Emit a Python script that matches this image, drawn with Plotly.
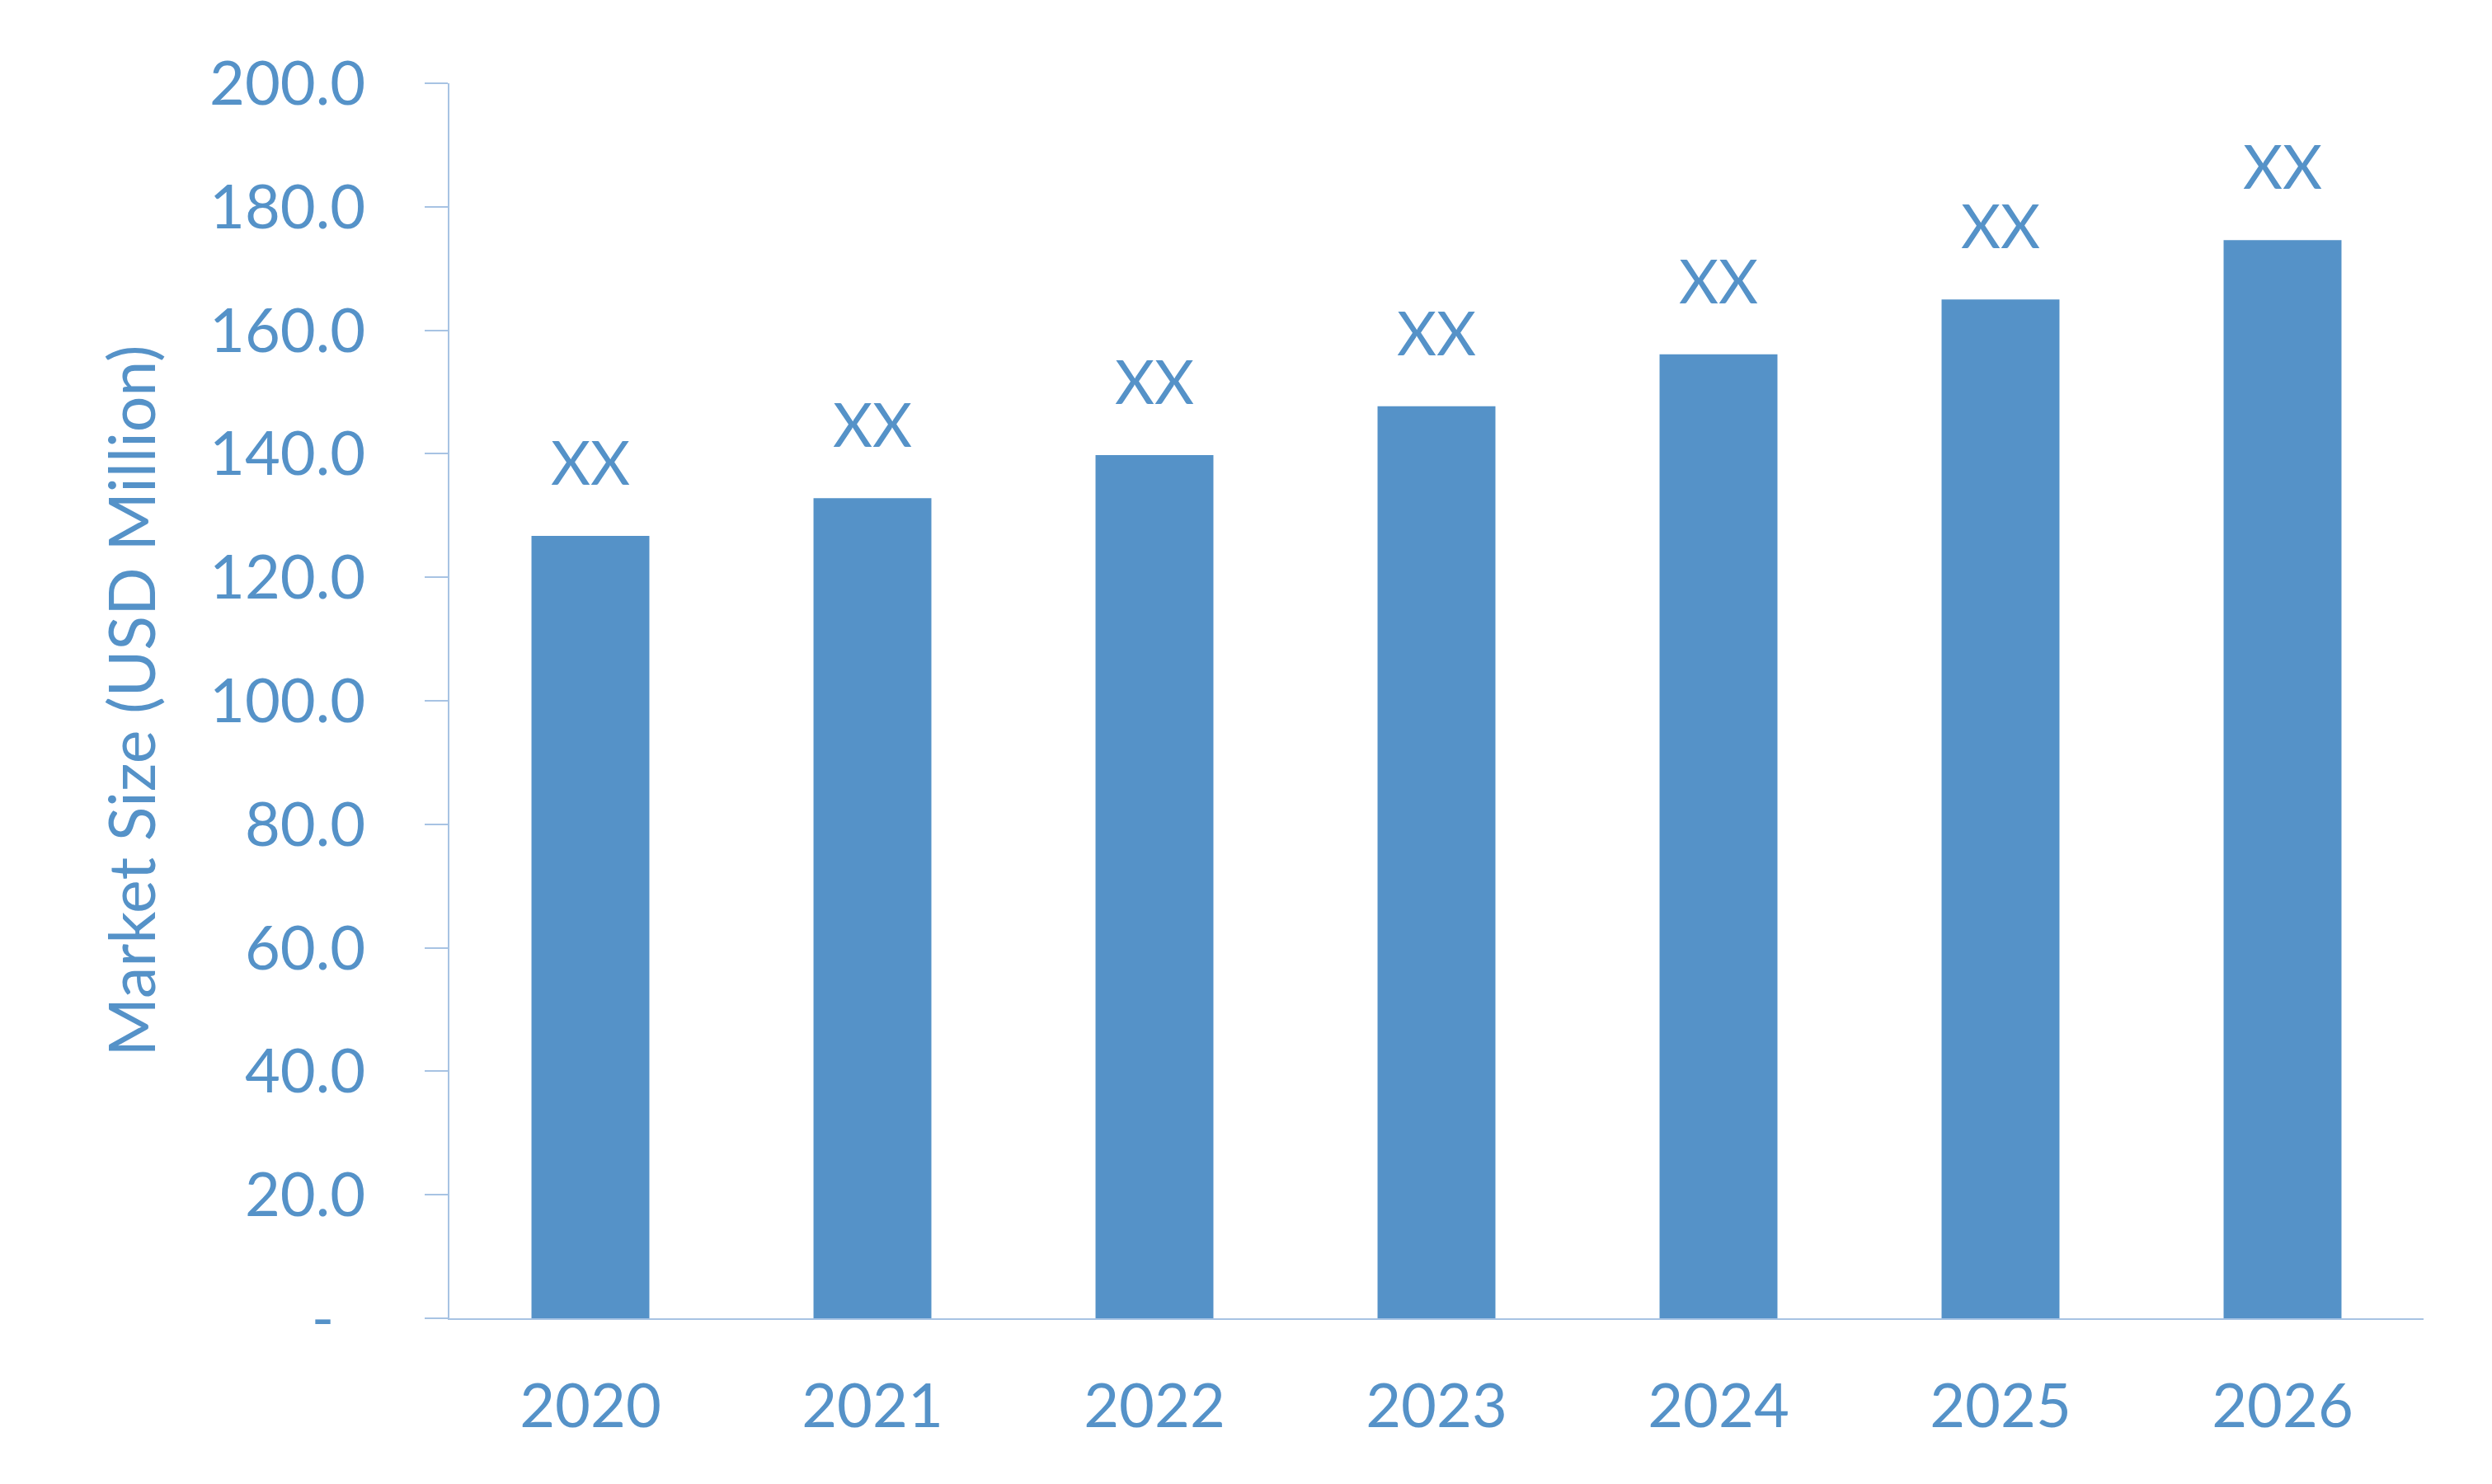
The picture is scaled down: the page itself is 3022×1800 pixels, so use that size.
import plotly.graph_objects as go

years = ["2020", "2021", "2022", "2023", "2024", "2025", "2026"]
market_size = [126.7, 132.8, 139.8, 147.7, 156.1, 165.0, 174.6]
bar_labels = ["XX", "XX", "XX", "XX", "XX", "XX", "XX"]
y_tickvals = [0, 20, 40, 60, 80, 100, 120, 140, 160, 180, 200]
y_ticktext = ["-\u00a0\u00a0", "20.0", "40.0", "60.0", "80.0", "100.0", "120.0",
              "140.0", "160.0", "180.0", "200.0"]
y_title = "Market Size (USD Million)"

BLUE = "#5592C8"
AXIS = "#A7C3E3"
FONT = "Lato"
FS = 74

fig = go.Figure()
fig.add_trace(go.Bar(
    x=years, y=market_size,
    marker=dict(color=BLUE, line=dict(width=0)),
    width=0.418,
    hoverinfo="skip",
))

# category positions are the index of each year on the category axis
for i, (v, t) in enumerate(zip(market_size, bar_labels)):
    fig.add_annotation(
        x=i, y=v, text=t, showarrow=False,
        xanchor="center", yanchor="bottom", yshift=44,
        font=dict(family=FONT, size=FS, color=BLUE),
    )

fig.update_layout(
    width=3022, height=1800,
    margin=dict(l=537, r=91, t=93, b=209, autoexpand=False),
    paper_bgcolor="white", plot_bgcolor="white",
    showlegend=False,
    font=dict(family=FONT, size=FS, color=BLUE),
    xaxis=dict(
        type="category",
        categoryorder="array", categoryarray=years,
        range=[-0.5, len(years) - 0.5],
        showline=True, linecolor=AXIS, linewidth=2,
        ticks="", showgrid=False, zeroline=False,
        tickfont=dict(family=FONT, size=FS, color=BLUE),
        ticklabelstandoff=41,
        automargin=False,
    ),
    yaxis=dict(
        range=[0, 200],
        tickvals=y_tickvals, ticktext=y_ticktext,
        showline=True, linecolor=AXIS, linewidth=2,
        ticks="outside", ticklen=28, tickwidth=2, tickcolor=AXIS,
        showgrid=False, zeroline=False,
        tickfont=dict(family=FONT, size=FS, color=BLUE),
        ticklabelstandoff=57,
        title=dict(text=y_title, font=dict(family=FONT, size=77, color=BLUE), standoff=40),
        automargin=False,
    ),
)

fig.write_html("out.html")
